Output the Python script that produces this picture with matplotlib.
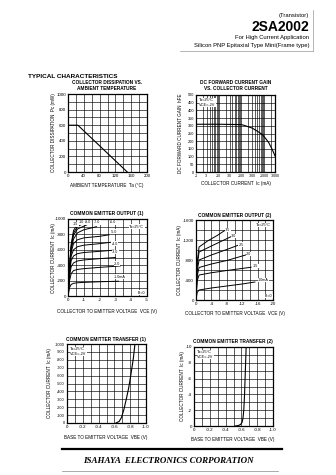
import numpy as np
import matplotlib
matplotlib.use('Agg')
import matplotlib.pyplot as plt
from matplotlib.ticker import LogLocator, NullFormatter

plt.rcParams['font.family'] = ['Liberation Sans', 'DejaVu Sans']

W, H = 336, 475

# ---------------- data ----------------
# collector dissipation vs ambient temperature
ta = [0, 25, 150]
pc = [600, 600, 0]

# DC forward current gain vs collector current (|Ic| in mA)
ic_hfe = [1, 10, 100, 150, 300, 500, 800, 1200, 1600, 2200, 3000]
hfe = [310, 310, 308, 300, 285, 265, 245, 215, 190, 150, 105]
hfe_xticks = [1, 3, 10, 30, 100, 300, 1000, 3000]
hfe_xlabels = ['-1', '-3', '-10', '-30', '-100', '-300', '-1000', '-3000']

# common emitter output (1): |Vce| (V) / |Ic| (mA) per base current
out1_ib = ['-1.0mA', '-2.0', '-3.0', '-4.0', '-5.0', '-6.0', '-7.0', '-8.0', '-10', '-15']
out1_vce = [
    [0, 0.1, 0.2, 0.35, 0.6, 1.0, 2.0, 3.2],
    [0, 0.1, 0.2, 0.35, 0.6, 1.0, 2.0, 3.3],
    [0, 0.1, 0.2, 0.35, 0.6, 1.0, 2.0, 3.0],
    [0, 0.1, 0.2, 0.35, 0.6, 1.0, 2.0, 2.9],
    [0, 0.1, 0.2, 0.35, 0.6, 1.0, 2.0, 2.8],
    [0, 0.1, 0.2, 0.35, 0.6, 1.0, 2.0, 2.6],
    [0, 0.1, 0.2, 0.35, 0.6, 1.0, 1.8],
    [0, 0.1, 0.2, 0.35, 0.6, 1.2],
    [0, 0.1, 0.2, 0.35, 0.6, 0.9],
    [0, 0.1, 0.2, 0.35, 0.55],
]
out1_ic = [
    [0, 110, 150, 165, 172, 177, 185, 192],
    [0, 200, 290, 330, 345, 355, 372, 390],
    [0, 260, 380, 430, 455, 468, 485, 500],
    [0, 300, 460, 520, 550, 565, 580, 595],
    [0, 330, 520, 600, 640, 660, 680, 700],
    [0, 350, 570, 680, 730, 755, 775, 795],
    [0, 360, 600, 740, 820, 860, 900],
    [0, 370, 630, 790, 870, 925],
    [0, 380, 650, 820, 900, 935],
    [0, 390, 670, 850, 920],
]
out1_lab_v = [3.3, 3.1, 3.0, 2.95, 2.9, 2.85, 1.85, 1.25, 0.85, 0.5]
out1_lab_i = [250, 420, 570, 680, 835, 955, 955, 955, 955, 930]

# common emitter output (2)
out2_ib = ['-10mA', '-15', '-20', '-25', '-30', '-35']
out2_vce = [
    [0, 0.3, 0.8, 4, 8, 12, 15.3],
    [0, 0.3, 0.8, 4, 8, 14.3],
    [0, 0.3, 0.8, 4, 8, 12.9],
    [0, 0.3, 0.8, 4, 8, 11.1],
    [0, 0.3, 0.8, 4, 7, 9.1],
    [0, 0.3, 0.8, 3, 5.5, 7.4],
]
out2_ic = [
    [0, 150, 200, 240, 280, 320, 360],
    [0, 380, 500, 545, 590, 655],
    [0, 480, 650, 720, 790, 900],
    [0, 580, 800, 900, 1010, 1100],
    [0, 680, 960, 1080, 1190, 1267],
    [0, 750, 1060, 1180, 1290, 1387],
]
out2_lab_v = [16.1, 14.8, 13.0, 11.1, 9.1, 7.6]
out2_lab_i = [400, 680, 920, 1110, 1280, 1400]

# common emitter transfer (1)
tr1_vbe = [0.62, 0.66, 0.69, 0.72, 0.75, 0.78, 0.81, 0.84, 0.86]
tr1_ic = [0, 20, 70, 170, 300, 440, 620, 820, 1000]

# common emitter transfer (2)
tr2_vbe = [0.52, 0.56, 0.59, 0.61, 0.62, 0.63, 0.64, 0.65, 0.66]
tr2_ic = [0, 0.05, 0.2, 0.5, 1.0, 2.0, 4.0, 7.0, 10.0]

# ---------------- drawing ----------------
fig = plt.figure(figsize=(W / 100, H / 100), dpi=100)
fig.patch.set_facecolor('white')


def px(x, y):
    return x / W, 1 - y / H


def make_ax(x0, y0, x1, y1):
    ax = fig.add_axes([x0 / W, 1 - y1 / H, (x1 - x0) / W, (y1 - y0) / H])
    for s in ax.spines.values():
        s.set_linewidth(0.9)
        s.set_color('black')
    ax.tick_params(which='both', length=0, pad=1.5, labelsize=3.2, colors='black')
    ax.grid(True, which='both', color='black', lw=0.45)
    ax.set_axisbelow(True)
    return ax


def neg(vals, fmt='{:g}'):
    return ['0' if v == 0 else '-' + fmt.format(v) for v in vals]


def set_grid(ax, xmaj, xmin, ymaj, ymin, xfmt='{:g}', yfmt='{:g}'):
    ax.set_xticks(xmaj, labels=neg(xmaj, xfmt))
    ax.set_xticks(xmin, minor=True)
    ax.set_yticks(ymaj, labels=neg(ymaj, yfmt))
    ax.set_yticks(ymin, minor=True)


def txt(x, y, s, size=3.3, **kw):
    fig.text(*px(x, y), s, fontsize=size, va='center', **kw)


box = dict(fc='white', ec='none', pad=0.2)

# header
txt(309, 15, '(Transistor)', 4.2, ha='right')
txt(309, 27, '2SA2002', 10, ha='right', fontweight='bold')
txt(309, 38, 'For High Current Application', 4.2, ha='right')
txt(309, 45, 'Silicon PNP Epitaxial Type Mini(Frame type)', 4.2, ha='right')
fig.add_artist(plt.Line2D([180 / W, 313 / W], [1 - 51 / H, 1 - 51 / H], color='#999999', lw=0.5))
fig.add_artist(plt.Line2D([313 / W, 313 / W], [1 - 10 / H, 1 - 51 / H], color='#999999', lw=0.5))

txt(28, 77, 'TYPICAL CHARACTERISTICS', 4.6, ha='left', fontweight='bold')

# 1. collector dissipation
ax1 = make_ax(68, 94, 147, 172)
ax1.plot(ta, pc, color='black', lw=0.8)
ax1.set_xlim(0, 200)
ax1.set_ylim(0, 1000)
ax1.set_xticks(range(0, 201, 40))
ax1.set_xticks(range(0, 201, 20), minor=True)
ax1.set_yticks(range(0, 1001, 200))
ax1.set_yticks(range(0, 1001, 100), minor=True)
txt(107, 82, 'COLLECTOR DISSIPATION VS.', 3.4, ha='center', fontweight='bold')
txt(107, 88, 'AMBIENT TEMPERATURE', 3.4, ha='center', fontweight='bold')
txt(107, 186, 'AMBIENT TEMPERATURE  Ta (\u00b0C)', 3.3, ha='center')
txt(53, 133, 'COLLECTOR DISSIPATION  Pc (mW)', 3.3, ha='center', rotation=90)

# 2. hFE vs Ic
ax2 = make_ax(196, 95, 275, 172)
ax2.plot(ic_hfe, hfe, color='black', lw=0.8)
ax2.set_xscale('log')
ax2.set_xlim(1, 3000)
ax2.set_ylim(0, 500)
ax2.set_xticks(hfe_xticks, labels=hfe_xlabels)
ax2.xaxis.set_minor_locator(LogLocator(subs=np.arange(2, 10)))
ax2.xaxis.set_minor_formatter(NullFormatter())
ax2.set_yticks(range(0, 501, 50))
ax2.tick_params(axis='x', labelsize=2.5)
ax2.tick_params(axis='y', labelsize=2.8)
ax2.text(0.04, 0.96, 'Ta=25\u00b0C\nVCE=-2V', transform=ax2.transAxes, fontsize=2.8,
         va='top', ha='left', bbox=dict(fc='white', ec='none', pad=0.4))
txt(236, 83, 'DC FORWARD CURRENT GAIN', 3.4, ha='center', fontweight='bold')
txt(236, 88, 'VS. COLLECTOR CURRENT', 3.4, ha='center', fontweight='bold')
txt(236, 183, 'COLLECTOR CURRENT  Ic (mA)', 3.3, ha='center')
txt(181, 133, 'DC FORWARD CURRENT GAIN  hFE', 3.3, ha='center', rotation=90)

# 3. common emitter output (1)
ax3 = make_ax(68, 219, 147, 296)
for v, i in zip(out1_vce, out1_ic):
    ax3.plot(v, i, color='black', lw=0.7)
for lab, lv, li in zip(out1_ib, out1_lab_v, out1_lab_i):
    ax3.text(lv, li, lab, fontsize=2.6, ha='center', va='center', bbox=box)
ax3.set_xlim(0, 5)
ax3.set_ylim(0, 1000)
set_grid(ax3, [0, 1, 2, 3, 4, 5], np.arange(0, 5.01, 0.5),
         list(range(0, 1001, 200)), list(range(0, 1001, 100)))
ax3.text(4.35, 900, 'Ta=25\u00b0C', fontsize=2.8, ha='center', va='center', bbox=box)
ax3.text(4.65, 45, 'IB=0', fontsize=2.6, ha='center', va='center', bbox=box)
txt(107, 214, 'COMMON EMITTER OUTPUT (1)', 3.4, ha='center', fontweight='bold')
txt(107, 311, 'COLLECTOR TO EMITTER VOLTAGE  VCE (V)', 3.3, ha='center')
txt(53, 258, 'COLLECTOR CURRENT  Ic (mA)', 3.3, ha='center', rotation=90)

# 4. common emitter output (2)
ax4 = make_ax(196, 220, 273, 300)
for v, i in zip(out2_vce, out2_ic):
    ax4.plot(v, i, color='black', lw=0.7)
for lab, lv, li in zip(out2_ib, out2_lab_v, out2_lab_i):
    ax4.text(lv, li, lab, fontsize=2.6, ha='left', va='center', bbox=box)
ax4.set_xlim(0, 20)
ax4.set_ylim(0, 1600)
set_grid(ax4, list(range(0, 21, 4)), list(range(0, 21, 2)),
         list(range(0, 1601, 400)), list(range(0, 1601, 200)))
ax4.text(17.6, 1500, 'Ta=25\u00b0C', fontsize=2.8, ha='center', va='center', bbox=box)
ax4.text(18.9, 80, 'IB=0', fontsize=2.6, ha='center', va='center', bbox=box)
txt(235, 216, 'COMMON EMITTER OUTPUT (2)', 3.4, ha='center', fontweight='bold')
txt(235, 313, 'COLLECTOR TO EMITTER VOLTAGE  VCE (V)', 3.3, ha='center')
txt(180, 260, 'COLLECTOR CURRENT  Ic (mA)', 3.3, ha='center', rotation=90)

# 5. common emitter transfer (1)
ax5 = make_ax(67, 344, 146, 423)
ax5.plot(tr1_vbe, tr1_ic, color='black', lw=0.8)
ax5.set_xlim(0, 1.0)
ax5.set_ylim(0, 1000)
set_grid(ax5, [0, 0.2, 0.4, 0.6, 0.8, 1.0], np.arange(0, 1.01, 0.1),
         list(range(0, 1001, 100)), [], xfmt='{:.1f}')
ax5.tick_params(axis='y', labelsize=2.8)
ax5.text(0.04, 0.96, 'Ta=25\u00b0C\nVCE=-2V', transform=ax5.transAxes, fontsize=2.8,
         va='top', ha='left', bbox=dict(fc='white', ec='none', pad=0.4))
txt(106, 339, 'COMMON EMITTER TRANSFER (1)', 3.4, ha='center', fontweight='bold')
txt(106, 437, 'BASE TO EMITTER VOLTAGE  VBE (V)', 3.3, ha='center')
txt(50, 383, 'COLLECTOR CURRENT  Ic (mA)', 3.3, ha='center', rotation=90)

# 6. common emitter transfer (2)
ax6 = make_ax(194, 347, 273, 426)
ax6.plot(tr2_vbe, tr2_ic, color='black', lw=0.8)
ax6.set_xlim(0, 1.0)
ax6.set_ylim(0, 10)
set_grid(ax6, [0, 0.2, 0.4, 0.6, 0.8, 1.0], np.arange(0, 1.01, 0.1),
         list(range(0, 11, 2)), list(range(0, 11, 1)), xfmt='{:.1f}')
ax6.text(0.04, 0.96, 'Ta=25\u00b0C\nVCE=-2V', transform=ax6.transAxes, fontsize=2.8,
         va='top', ha='left', bbox=dict(fc='white', ec='none', pad=0.4))
txt(233, 342, 'COMMON EMITTER TRANSFER (2)', 3.4, ha='center', fontweight='bold')
txt(233, 440, 'BASE TO EMITTER VOLTAGE  VBE (V)', 3.3, ha='center')
txt(183, 386, 'COLLECTOR CURRENT  Ic (mA)', 3.3, ha='center', rotation=90)

# footer
fig.add_artist(plt.Line2D([62 / W, 282 / W], [1 - 449 / H, 1 - 449 / H], color='black', lw=1.6))
fig.add_artist(plt.Line2D([62 / W, 278 / W], [1 - 471 / H, 1 - 471 / H], color='#888888', lw=0.5))
fig.text(*px(168, 461), 'ISAHAYA  ELECTRONICS CORPORATION', fontsize=6.5, ha='center', va='center',
         family=['Liberation Serif', 'DejaVu Serif'], fontweight='bold', fontstyle='italic')

fig.savefig('out.png', dpi=100, facecolor='white')
